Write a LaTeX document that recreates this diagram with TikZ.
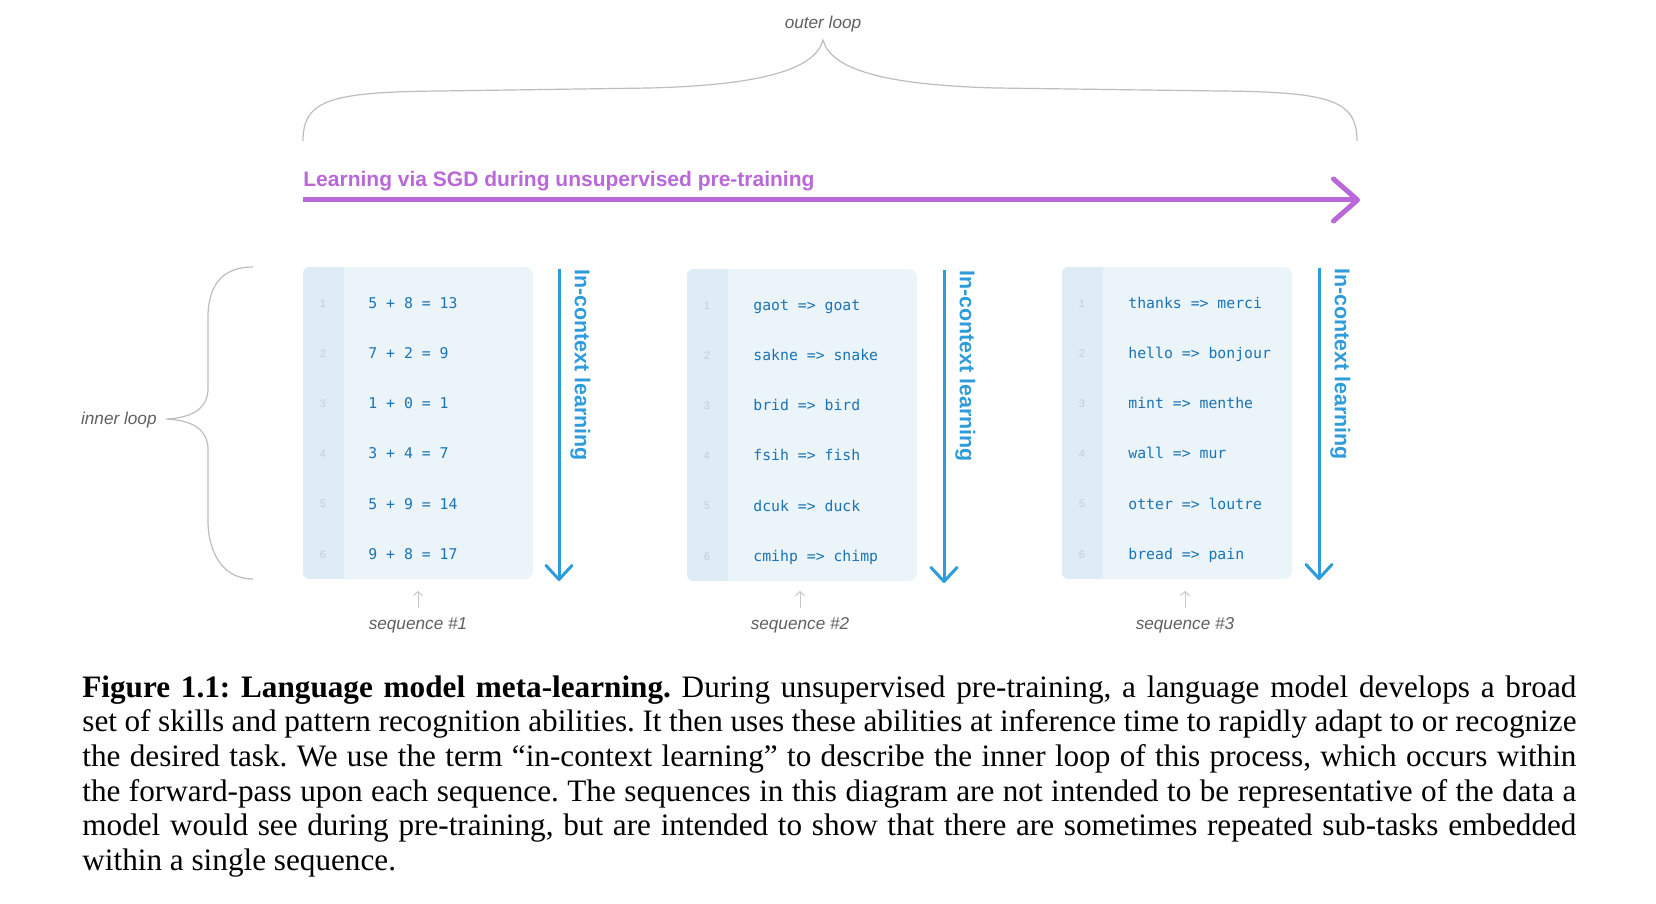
\documentclass[tikz,border=0pt]{standalone}
\usepackage{fontspec}
\setmainfont{Liberation Serif}
\setsansfont{Liberation Sans}
\setmonofont{DejaVu Sans Mono}
\usetikzlibrary{arrows.meta}

\definecolor{boxfill}{HTML}{EBF4F8}
\definecolor{gutterfill}{HTML}{DEEDF5}
\definecolor{codeblue}{HTML}{1A73B6}
\definecolor{numgray}{HTML}{BFCFD8}
\definecolor{icblue}{HTML}{2E9BDA}
\definecolor{sgdpurple}{HTML}{B968D9}
\definecolor{bracegray}{HTML}{BDBDBD}
\definecolor{labelgray}{HTML}{606060}
\definecolor{arrowgray}{HTML}{C8C8C8}

\tikzset{%
  seqbox/.style   = {fill=boxfill, rounded corners=4pt, minimum width=115pt,
    minimum height=156pt, inner sep=0pt},
  code/.style     = {font=\ttfamily\fontsize{7.4pt}{8pt}\selectfont,
    execute at begin node=\spaceskip4.45pt\relax,
    text=codeblue, text width=75pt, align=left, text height=5.6pt,
    text depth=1.8pt, inner sep=0pt, anchor=west},
  lineno/.style   = {font=\sffamily\fontsize{5.5pt}{6pt}\selectfont, text=numgray,
    text height=4pt, text depth=0pt, inner sep=0pt}, % line numbers
  iclabel/.style  = {font=\sffamily\bfseries\fontsize{10.7pt}{12pt}\selectfont,
    text=icblue, rotate=-90, anchor=south west, inner sep=0pt},
  icarrow/.style  = {draw=icblue, line width=1.5pt,
    -{Straight Barb[length=7pt,width=13pt,round]}},
  sgdlabel/.style = {font=\sffamily\bfseries\fontsize{10.5pt}{12pt}\selectfont,
    text=sgdpurple, inner sep=0pt},
  sgdarrow/.style = {draw=sgdpurple, line width=2.5pt,
    -{Straight Barb[length=12pt,width=21pt,round]}},
  looplabel/.style = {font=\sffamily\itshape\fontsize{8.6pt}{10pt}\selectfont,
    text=labelgray},
  seqarrow/.style = {draw=arrowgray, line width=0.5pt,
    -{Straight Barb[length=2pt,width=4.5pt]}},
  brace/.style    = {draw=bracegray, line width=0.6pt},
  caption/.style  = {text width=747pt, align=justify, inner sep=0pt,
    font=\rmfamily\fontsize{15.6pt}{17.35pt}\selectfont}
}

\begin{document}
\begin{tikzpicture}[x=0.5pt, y=-0.5pt, node distance=25.1pt]
  \fill[white] (0,0) rectangle (1656,904);
  \useasboundingbox (0,0) rectangle (1656,904);

  % outer loop
  \node[looplabel] (OuterLabel) at (823,24) {outer loop};
  \draw[brace] (303,141) .. controls (303,100) and (330,92) .. (440,91) -- (650,88)
    .. controls (760,85) and (815,70) .. (823,40)
    .. controls (831,70) and (886,85) .. (996,88) -- (1220,91)
    .. controls (1330,92) and (1357,100) .. (1357,141);

  % pre-training
  \node[sgdlabel, anchor=base west] (SGDLabel) at (303,186)
    {Learning via SGD during unsupervised pre-training};
  \coordinate (SGDStart) at (303,200);
  \coordinate (SGDEnd) at (1360,200);
  \draw[sgdarrow] (SGDStart) -- (SGDEnd);

  % inner loop
  \node[looplabel, anchor=east, inner sep=0pt] (InnerLabel) at (157,420) {inner loop};
  \draw[brace] (253,267) .. controls (225,267) and (209,282) .. (208,315) -- (208,390)
    .. controls (207,410) and (190,418) .. (166,419)
    .. controls (190,420) and (207,428) .. (208,448) -- (208,523)
    .. controls (209,556) and (225,579) .. (253,579);

  % sequence 1
  \node[seqbox] (Box1) at (418,423) {};
  \begin{scope}
    \clip[rounded corners=4pt] (Box1.north west) rectangle (Box1.south east);
    \fill[gutterfill] (Box1.north west) rectangle ([xshift=20.5pt]Box1.south west);
  \end{scope}
  \draw
  node at (323,303) [lineno, name=NumA1]{1}
  node [lineno, name=NumA2, below of=NumA1]{2}
  node [lineno, name=NumA3, below of=NumA2]{3}
  node [lineno, name=NumA4, below of=NumA3]{4}
  node [lineno, name=NumA5, below of=NumA4]{5}
  node [lineno, name=NumA6, below of=NumA5]{6};
  \draw
  node at (368,304.5) [code, name=Add1]{5 + 8 = 13}
  node [code, name=Add2, below of=Add1]{7 + 2 = 9}
  node [code, name=Add3, below of=Add2]{1 + 0 = 1}
  node [code, name=Add4, below of=Add3]{3 + 4 = 7}
  node [code, name=Add5, below of=Add4]{5 + 9 = 14}
  node [code, name=Add6, below of=Add5]{9 + 8 = 17};
  \coordinate (IcTop1) at (559,269);
  \coordinate (IcEnd1) at (559,581);
  \draw[icarrow] (IcTop1) -- (IcEnd1);
  \node[iclabel] (IcLabel1) at (570,269) {In-context learning};
  \node[looplabel] (SeqLabel1) at (418,625) {sequence \#1};
  \coordinate (SeqFoot1) at (418,608);
  \coordinate (SeqTip1) at (418,591);
  \draw[seqarrow] (SeqFoot1) -- (SeqTip1);

  % sequence 2
  \node[seqbox] (Box2) at (802,425) {};
  \begin{scope}
    \clip[rounded corners=4pt] (Box2.north west) rectangle (Box2.south east);
    \fill[gutterfill] (Box2.north west) rectangle ([xshift=20.5pt]Box2.south west);
  \end{scope}
  \draw
  node at (707,305) [lineno, name=NumB1]{1}
  node [lineno, name=NumB2, below of=NumB1]{2}
  node [lineno, name=NumB3, below of=NumB2]{3}
  node [lineno, name=NumB4, below of=NumB3]{4}
  node [lineno, name=NumB5, below of=NumB4]{5}
  node [lineno, name=NumB6, below of=NumB5]{6};
  \draw
  node at (753,306.5) [code, name=Spell1]{gaot => goat}
  node [code, name=Spell2, below of=Spell1]{sakne => snake}
  node [code, name=Spell3, below of=Spell2]{brid => bird}
  node [code, name=Spell4, below of=Spell3]{fsih => fish}
  node [code, name=Spell5, below of=Spell4]{dcuk => duck}
  node [code, name=Spell6, below of=Spell5]{cmihp => chimp};
  \coordinate (IcTop2) at (944,270);
  \coordinate (IcEnd2) at (944,583);
  \draw[icarrow] (IcTop2) -- (IcEnd2);
  \node[iclabel] (IcLabel2) at (955,270) {In-context learning};
  \node[looplabel] (SeqLabel2) at (800,625) {sequence \#2};
  \coordinate (SeqFoot2) at (800,608);
  \coordinate (SeqTip2) at (800,591);
  \draw[seqarrow] (SeqFoot2) -- (SeqTip2);

  % sequence 3
  \node[seqbox] (Box3) at (1177,423) {};
  \begin{scope}
    \clip[rounded corners=4pt] (Box3.north west) rectangle (Box3.south east);
    \fill[gutterfill] (Box3.north west) rectangle ([xshift=20.5pt]Box3.south west);
  \end{scope}
  \draw
  node at (1082,303) [lineno, name=NumC1]{1}
  node [lineno, name=NumC2, below of=NumC1]{2}
  node [lineno, name=NumC3, below of=NumC2]{3}
  node [lineno, name=NumC4, below of=NumC3]{4}
  node [lineno, name=NumC5, below of=NumC4]{5}
  node [lineno, name=NumC6, below of=NumC5]{6};
  \draw
  node at (1128,304.5) [code, name=Trans1]{thanks => merci}
  node [code, name=Trans2, below of=Trans1]{hello => bonjour}
  node [code, name=Trans3, below of=Trans2]{mint => menthe}
  node [code, name=Trans4, below of=Trans3]{wall => mur}
  node [code, name=Trans5, below of=Trans4]{otter => loutre}
  node [code, name=Trans6, below of=Trans5]{bread => pain};
  \coordinate (IcTop3) at (1319,268);
  \coordinate (IcEnd3) at (1319,580);
  \draw[icarrow] (IcTop3) -- (IcEnd3);
  \node[iclabel] (IcLabel3) at (1330,268) {In-context learning};
  \node[looplabel] (SeqLabel3) at (1185,625) {sequence \#3};
  \coordinate (SeqFoot3) at (1185,608);
  \coordinate (SeqTip3) at (1185,591);
  \draw[seqarrow] (SeqFoot3) -- (SeqTip3);

  % caption
  \node[caption, anchor=north west] (Caption) at (82,675)
    {\hyphenpenalty=10000 \exhyphenpenalty=10000 \frenchspacing
    \textbf{Figure 1.1: Language model meta-learning.} During unsupervised pre-training, a language model develops a broad\linebreak
    set of skills and pattern recognition abilities. It then uses these abilities at inference time to rapidly adapt to or recognize\linebreak
    the desired task. We use the term “in-context learning” to describe the inner loop of this process, which occurs within\linebreak
    the forward-pass upon each sequence. The sequences in this diagram are not intended to be representative of the data a\linebreak
    model would see during pre-training, but are intended to show that there are sometimes repeated sub-tasks embedded\linebreak
    within a single sequence.};
\end{tikzpicture}
\end{document}
